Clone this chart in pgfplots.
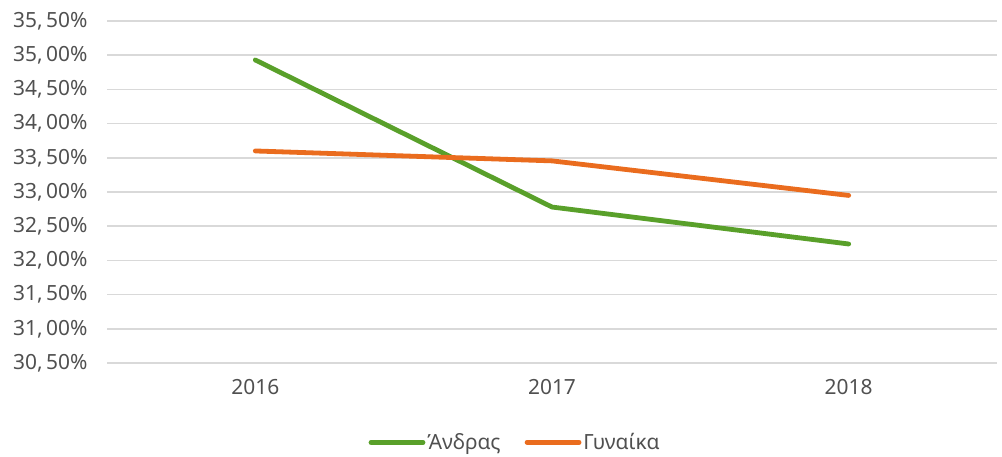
\documentclass[border=0pt]{standalone}
\usepackage{pgfplots}
\pgfplotsset{compat=1.18}
\usepackage{fontspec}
\setmainfont{Noto Sans}
\definecolor{mgreen}{RGB}{89,160,42}
\definecolor{morange}{RGB}{234,108,30}
\definecolor{txtgray}{RGB}{80,80,80}
\definecolor{gridgray}{RGB}{217,217,217}
\begin{document}
\begin{tikzpicture}
\useasboundingbox (0,0) rectangle (1002bp,457bp);
\begin{axis}[
  at={(107bp,94bp)}, anchor=south west,
  scale only axis, width=890bp, height=342bp,
  xmin=-0.5, xmax=2.5, ymin=30.5, ymax=35.5,
  xtick={0,1,2}, xticklabels={2016,2017,2018},
  ytick={30.5,31,31.5,32,32.5,33,33.5,34,34.5,35,35.5},
  yticklabels={{30,\,50\%},{31,\,00\%},{31,\,50\%},{32,\,00\%},{32,\,50\%},{33,\,00\%},{33,\,50\%},{34,\,00\%},{34,\,50\%},{35,\,00\%},{35,\,50\%}},
  axis line style={draw=none},
  major tick length=0pt,
  ymajorgrids, grid style={gridgray, line width=1.5bp},
  tick label style={font=\fontsize{21}{24}\selectfont, text=txtgray},
  yticklabel style={xshift=-16bp},
  xticklabel style={yshift=-13bp},
  legend columns=2,
  legend style={at={(0.4586,-0.232)}, anchor=center, draw=none, fill=none,
    font=\fontsize{21}{24}\selectfont, text=txtgray,
    /tikz/every even column/.append style={column sep=22bp}},
  legend image code/.code={\draw[#1, line width=4.8bp, line cap=round] (0bp,0bp) -- (52bp,0bp);},
  every axis plot/.append style={line width=4.8bp, line cap=round, line join=round},
]
\addplot[mgreen, mark=none] coordinates {(0,34.93) (1,32.78) (2,32.24)};
\addlegendentry{Άνδρας}
\addplot[morange, mark=none] coordinates {(0,33.60) (1,33.455) (2,32.95)};
\addlegendentry{Γυναίκα}
\end{axis}
\end{tikzpicture}
\end{document}
